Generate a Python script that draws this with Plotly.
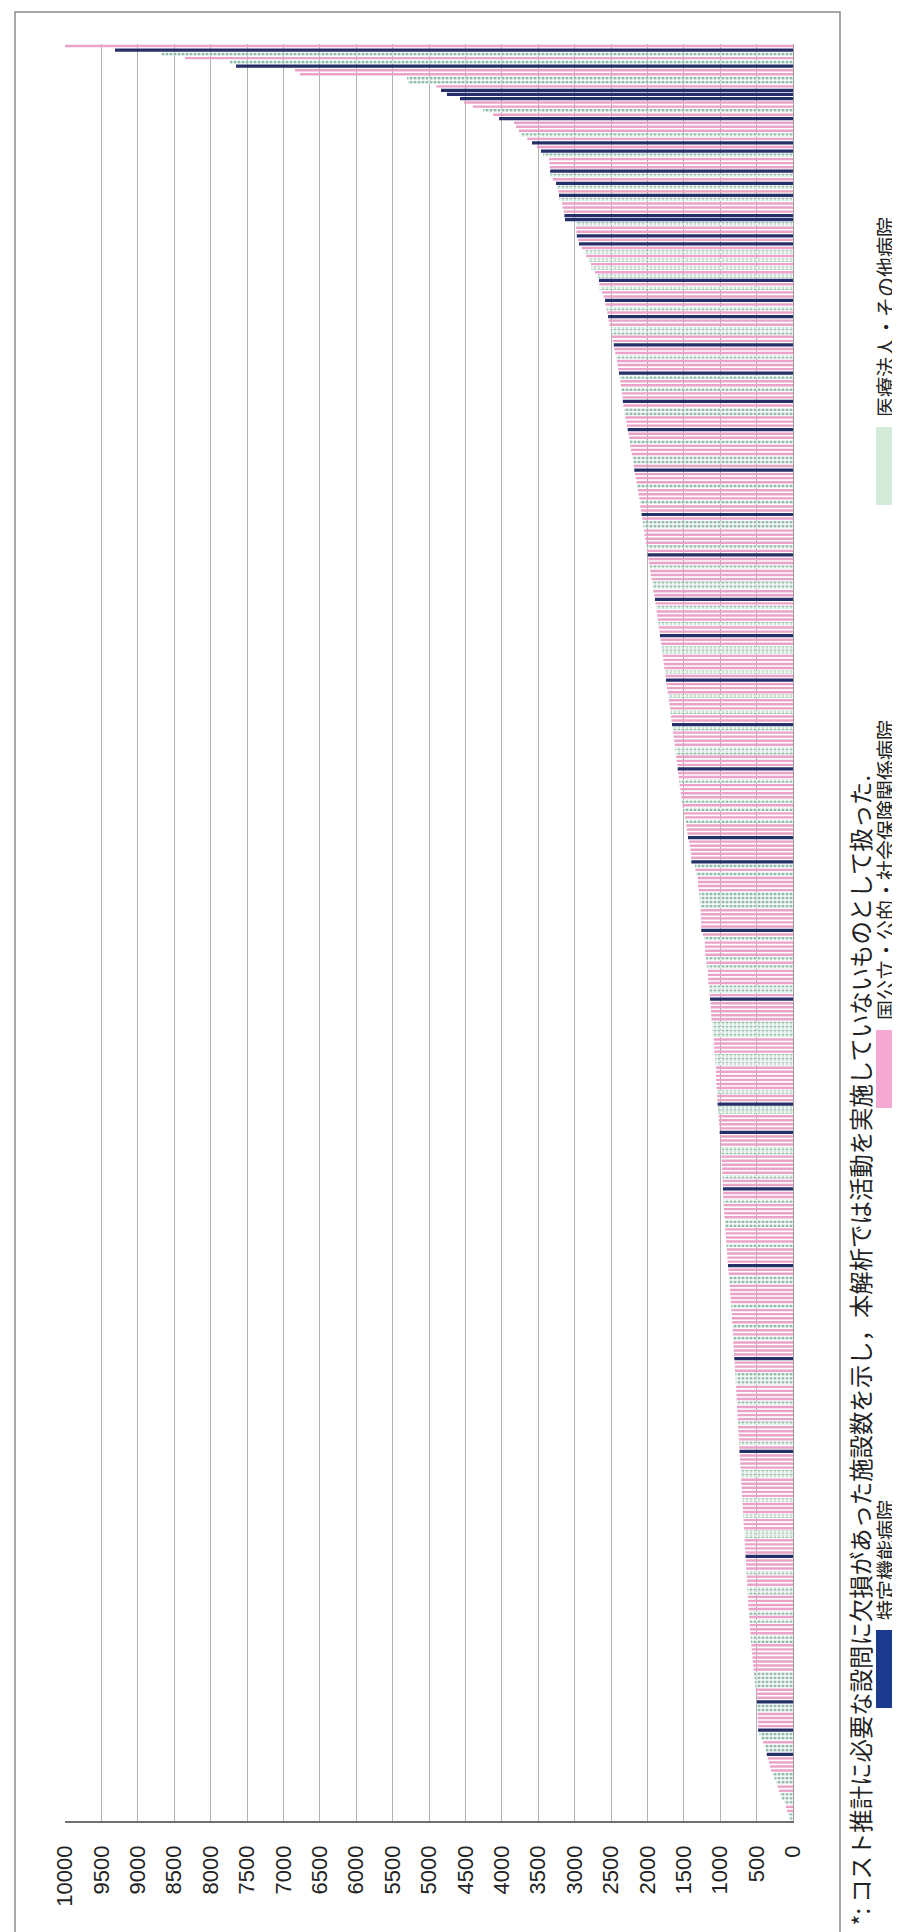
import plotly.graph_objects as go

# ---------------- data (bars sorted from top to bottom) ----------------
VALUES = [
    # top group
    10000, 9313, 8680, 8352, 7734, 7651, 6840, 6772, 5302, 5288,
    4900, 4835, 4753, 4574, 4519, 4400, 4258, 4120, 4038, 3832,
    3805, 3764, 3736, 3650, 3585, 3520, 3462, 3434, 3352, 3345,
    3338, 3336, 3330, 3300, 3255, 3240, 3225, 3214, 3210, 3173,
    3165, 3150, 3140, 3132, 2981, 2978, 2975, 2970, 2955, 2940,
    2900, 2857, 2840, 2810, 2775, 2770, 2720, 2690, 2665, 2660,
    2655, 2624, 2600, 2582,
    # 64-188
    2575, 2560, 2551, 2540, 2532, 2520, 2505, 2497, 2490, 2476, 2462, 2455, 2441,
    2430, 2418, 2410, 2402, 2391, 2380, 2372, 2365, 2358, 2350, 2344, 2337, 2330,
    2322, 2315, 2304, 2290, 2282, 2270, 2262, 2251, 2240, 2236, 2225, 2214,
    2205, 2196, 2188, 2180, 2170, 2158, 2150, 2141, 2130, 2122, 2112, 2104,
    2098, 2090, 2080, 2071, 2063, 2055, 2046, 2038, 2030, 2020, 2011, 2004, 1995,
    1986, 1978, 1970, 1962, 1953, 1944, 1936, 1928, 1920, 1905, 1896, 1888,
    1880, 1873, 1866, 1858, 1850, 1842, 1834, 1828, 1820, 1812, 1805, 1797, 1790,
    1782, 1775, 1768, 1760, 1752, 1745, 1738, 1730, 1722, 1714, 1706, 1698,
    1690, 1684, 1676, 1670, 1662, 1655, 1648, 1640, 1633, 1626, 1620, 1612, 1605,
    1598, 1590, 1584, 1577, 1570, 1562, 1556, 1548, 1541, 1533, 1526, 1518,
    # 189-263
    1511, 1495, 1483, 1470, 1466, 1458, 1450, 1442, 1430, 1418,
    1409, 1401, 1398, 1397, 1346, 1340, 1332, 1310, 1305, 1302,
    1296, 1290, 1284, 1279, 1275, 1270, 1268, 1266, 1264, 1262,
    1260, 1240, 1223, 1212, 1210, 1208, 1206, 1195, 1190, 1182,
    1170, 1168, 1165, 1162, 1156, 1152, 1145, 1140, 1130, 1128,
    1126, 1123, 1120, 1113, 1111, 1109, 1106, 1090, 1087, 1085,
    1082, 1073, 1071, 1068, 1060, 1058, 1057, 1055, 1053, 1050,
    1046, 1042, 1040, 1036, 1031,
    # 264-287
    1028, 1022, 1020, 1016, 1009, 1007, 1003, 998, 992, 990, 987, 984,
    980, 977, 975, 971, 968, 966, 964, 962, 960, 958, 955, 952,
    # 288-416
    950, 946, 941, 938, 933, 930, 926, 921, 917, 914, 910, 905,
    901, 898, 893, 888, 884, 880, 876, 872, 866, 862, 858, 854,
    850, 847, 843, 840, 837, 833, 830, 826, 823, 820, 816, 813, 810,
    806, 802, 799, 796, 792, 789, 786, 783, 780, 777, 774, 772,
    770, 766, 763, 760, 757, 754, 750, 747, 744, 741, 738, 735, 731,
    728, 725, 722, 719, 715, 712, 709, 705, 702, 699, 696, 693,
    690, 687, 684, 681, 678, 675, 671, 668, 665, 662, 659, 655, 652, 649, 646, 643, 640,
    637, 634, 630, 627, 624, 620, 617, 613, 610, 606, 602, 598, 594, 590, 585, 581,
    577, 572, 567, 562, 557, 552, 546, 541, 535, 529, 523, 517, 511, 505, 499,
    495, 493, 490, 488, 486, 483, 481,
    # 417-439 (tail)
    480, 462, 440, 410, 385, 372, 360, 345, 330, 316, 302, 280,
    255, 230, 212, 195, 178, 160, 115, 98, 82, 66, 50,
]

# N = 特定機能病院, P = 国公立・公的・社会保険関係病院, G = 医療法人・その他病院
TYPES = list(
    "PNGPGNPPGG" "PNNNPPGPNP" "PPGPNPNGPP" "PNGPNGPNGP" "PPNNGPPNPN" "PGPGPGPGNP" "GPPN"
    "PGPNPPGGPPNPPGPPPNGPPGPPN"
    "PGGPPPNPPGPPPGGPNPPPGPPPG"
    "PPNPGGPPPPGPNPPGPPPGGPPNP"
    "GPPPGPPNPPGGPPPPGPNPPPGPP"
    "PGPPNGPPPPGGPPPNPPGPPPPGP"
    "GPPGPPPNPPPPPNGPGPPPPGGGG"
    "PPPPPNPGPPPPGPGPPPPGGPNPP"
    "PPPGGGGPPPPGGGPPPPPPGPPNG"
    "GPPPPNPPPGGPPPPPGPPNPPGPP"
    "PPGGPPPPGPPPPNPPGGPPPPPGP"
    "PPPGPPGPPPPNPPPGGGPPPPGPP"
    "PPGPPPPGPNPPPPGGPPPPPGPPP"
    "GPPPGGPPPPNPPPGPPPGGPPPPG"
    "PGPPPGGPPPPPPPGGGGPPPNGGP"
    "PPPNGGPGGNPPPPGGGPPGGGPPGG"
)

CATEGORIES = ["N", "P", "G"]
CATEGORY_NAMES = {
    "N": "特定機能病院",
    "P": "国公立・公的・社会保険関係病院",
    "G": "医療法人・その他病院",
}
TICK_VALUES = [0, 500, 1000, 1500, 2000, 2500, 3000, 3500, 4000, 4500, 5000,
               5500, 6000, 6500, 7000, 7500, 8000, 8500, 9000, 9500, 10000]
TICK_TEXT = [str(v) for v in TICK_VALUES]
FOOTNOTE = "*: コスト推計に必要な設問に欠損があった施設数を示し，本解析では活動を実施していないものとして扱った."

# ---------------- styling ----------------
W, H = 900, 1932
PL, PR, PT, PB = 57, 785, 36, 1813   # plot area in pixels

def px(x):
    return (x - PL) / (PR - PL)

def py(y):
    return (PB - y) / (PB - PT)

STYLE = {
    "N": dict(color="#262f6a", width=0.8),
    "P": dict(color="#eba2c8", width=0.6),
    "G": dict(color="#eef7f0", width=0.8),
}
JP_FONT = "Noto Sans CJK JP"
NUM_FONT = "Liberation Sans, Arial, sans-serif"

n = min(len(VALUES), len(TYPES))
fig = go.Figure()
for cat in CATEGORIES:
    idx = [i for i in range(n) if TYPES[i] == cat]
    marker = dict(color=STYLE[cat]["color"], line=dict(width=0))
    if cat == "G":
        marker["pattern"] = dict(shape=".", fgcolor="#3b7f6d", bgcolor="#eef7f0",
                                 size=4, solidity=0.45)
    fig.add_trace(go.Bar(
        x=[VALUES[i] for i in idx],
        y=idx,
        orientation="h",
        width=STYLE[cat]["width"],
        marker=marker,
        name=CATEGORY_NAMES[cat],
        showlegend=False,
        hoverinfo="x+name",
    ))

shapes = [
    # outer frame
    dict(type="rect", xref="paper", yref="paper",
         x0=px(7), x1=px(832), y0=py(1929), y1=py(4),
         line=dict(color="#8a8a8a", width=1.5), fillcolor="rgba(0,0,0,0)", layer="below"),
]

annotations = [
    dict(text=FOOTNOTE, xref="paper", yref="paper", x=px(851), y=py(1918),
         xanchor="center", yanchor="bottom", textangle=-90, showarrow=False,
         borderpad=0,
         font=dict(family=JP_FONT, size=23.4, color="#222")),
]

# manual legend (rotated like the rest of the page)
LEGEND_ITEMS = [
    ("N", "#1d3b8e", 1622, 1700),
    ("P", "#f5a8d2", 1022, 1100),
    ("G", "#d3ebd8", 419, 497),
]
for cat, col, y_top, y_bot in LEGEND_ITEMS:
    shapes.append(dict(type="rect", xref="paper", yref="paper",
                       x0=px(868), x1=px(899), y0=py(y_bot), y1=py(y_top),
                       line=dict(width=0), fillcolor=col))
    annotations.append(dict(text=CATEGORY_NAMES[cat], xref="paper", yref="paper",
                            x=px(877), y=py(y_top - 9), xanchor="center", yanchor="bottom",
                            textangle=-90, showarrow=False, borderpad=0,
                            font=dict(family=JP_FONT, size=20, color="#222")))

fig.update_layout(
    width=W, height=H,
    margin=dict(l=PL, r=W - PR, t=PT, b=H - PB, pad=0),
    paper_bgcolor="white", plot_bgcolor="white",
    barmode="overlay",
    shapes=shapes,
    annotations=annotations,
    xaxis=dict(
        range=[10000, 0], tickmode="array", tickvals=TICK_VALUES, ticktext=TICK_TEXT,
        tickangle=-90, tickfont=dict(family=NUM_FONT, size=22, color="#222"),
        showgrid=True, gridcolor="#b0b0b0", gridwidth=1, zeroline=False,
        showline=True, linecolor="#707070", linewidth=1.5, ticks="",
        ticklabelstandoff=14,
    ),
    yaxis=dict(
        range=[n - 0.5, -0.5], showticklabels=False, showgrid=False, zeroline=False,
        showline=True, linecolor="#9a9a9a", linewidth=1, side="right", ticks="",
    ),
    font=dict(family=JP_FONT),
)

fig.write_html("out.html")
